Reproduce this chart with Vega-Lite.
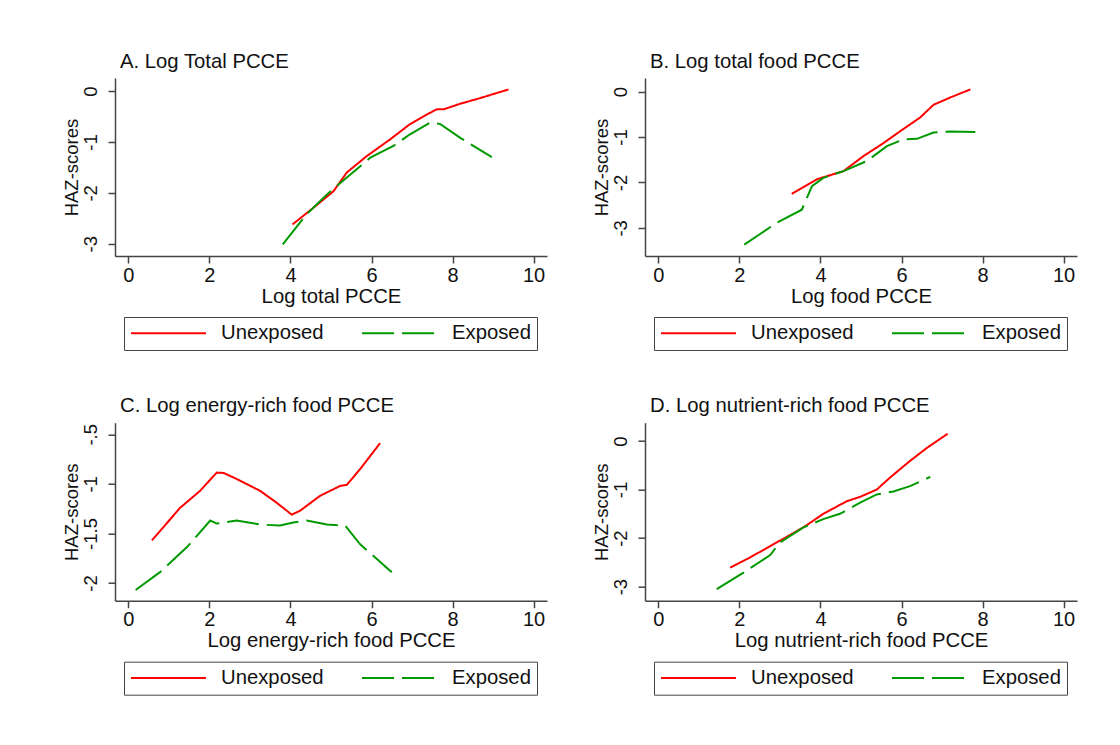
{
  "$schema": "https://vega.github.io/schema/vega-lite/v6.json",
  "background": "white",
  "padding": {"left": 61, "top": 51, "right": 10, "bottom": 10},
  "datasets": {
    "curves": [
      {"panel": "A", "series": "Unexposed", "x": 4.05, "y": -2.62},
      {"panel": "A", "series": "Unexposed", "x": 4.57, "y": -2.29},
      {"panel": "A", "series": "Unexposed", "x": 5.06, "y": -1.97},
      {"panel": "A", "series": "Unexposed", "x": 5.39, "y": -1.6},
      {"panel": "A", "series": "Unexposed", "x": 5.88, "y": -1.28},
      {"panel": "A", "series": "Unexposed", "x": 6.46, "y": -0.95},
      {"panel": "A", "series": "Unexposed", "x": 6.95, "y": -0.65},
      {"panel": "A", "series": "Unexposed", "x": 7.37, "y": -0.46},
      {"panel": "A", "series": "Unexposed", "x": 7.61, "y": -0.36},
      {"panel": "A", "series": "Unexposed", "x": 7.78, "y": -0.36},
      {"panel": "A", "series": "Unexposed", "x": 8.19, "y": -0.25},
      {"panel": "A", "series": "Unexposed", "x": 8.68, "y": -0.14},
      {"panel": "A", "series": "Unexposed", "x": 9.38, "y": 0.03},
      {"panel": "A", "series": "Exposed", "x": 3.81, "y": -3.01},
      {"panel": "A", "series": "Exposed", "x": 4.4, "y": -2.42},
      {"panel": "A", "series": "Exposed", "x": 4.9, "y": -2.03},
      {"panel": "A", "series": "Exposed", "x": 5.39, "y": -1.7},
      {"panel": "A", "series": "Exposed", "x": 5.97, "y": -1.31},
      {"panel": "A", "series": "Exposed", "x": 6.54, "y": -1.08},
      {"panel": "A", "series": "Exposed", "x": 6.95, "y": -0.85},
      {"panel": "A", "series": "Exposed", "x": 7.45, "y": -0.62},
      {"panel": "A", "series": "Exposed", "x": 7.7, "y": -0.65},
      {"panel": "A", "series": "Exposed", "x": 8.19, "y": -0.92},
      {"panel": "A", "series": "Exposed", "x": 8.97, "y": -1.3},
      {"panel": "B", "series": "Unexposed", "x": 3.29, "y": -2.25},
      {"panel": "B", "series": "Unexposed", "x": 3.91, "y": -1.93},
      {"panel": "B", "series": "Unexposed", "x": 4.24, "y": -1.84},
      {"panel": "B", "series": "Unexposed", "x": 4.57, "y": -1.75},
      {"panel": "B", "series": "Unexposed", "x": 5.06, "y": -1.42},
      {"panel": "B", "series": "Unexposed", "x": 5.56, "y": -1.13},
      {"panel": "B", "series": "Unexposed", "x": 5.97, "y": -0.87},
      {"panel": "B", "series": "Unexposed", "x": 6.46, "y": -0.57},
      {"panel": "B", "series": "Unexposed", "x": 6.79, "y": -0.29},
      {"panel": "B", "series": "Unexposed", "x": 7.2, "y": -0.13},
      {"panel": "B", "series": "Unexposed", "x": 7.7, "y": 0.05},
      {"panel": "B", "series": "Exposed", "x": 2.12, "y": -3.37},
      {"panel": "B", "series": "Exposed", "x": 2.92, "y": -2.89},
      {"panel": "B", "series": "Exposed", "x": 3.54, "y": -2.6},
      {"panel": "B", "series": "Exposed", "x": 3.79, "y": -2.08},
      {"panel": "B", "series": "Exposed", "x": 4.07, "y": -1.9},
      {"panel": "B", "series": "Exposed", "x": 4.57, "y": -1.75},
      {"panel": "B", "series": "Exposed", "x": 5.14, "y": -1.53},
      {"panel": "B", "series": "Exposed", "x": 5.64, "y": -1.2},
      {"panel": "B", "series": "Exposed", "x": 6.05, "y": -1.05},
      {"panel": "B", "series": "Exposed", "x": 6.38, "y": -1.04},
      {"panel": "B", "series": "Exposed", "x": 6.79, "y": -0.9},
      {"panel": "B", "series": "Exposed", "x": 7.2, "y": -0.88},
      {"panel": "B", "series": "Exposed", "x": 7.82, "y": -0.89},
      {"panel": "C", "series": "Unexposed", "x": 0.58, "y": -1.57},
      {"panel": "C", "series": "Unexposed", "x": 1.28, "y": -1.24},
      {"panel": "C", "series": "Unexposed", "x": 1.77, "y": -1.07},
      {"panel": "C", "series": "Unexposed", "x": 2.18, "y": -0.886},
      {"panel": "C", "series": "Unexposed", "x": 2.35, "y": -0.89},
      {"panel": "C", "series": "Unexposed", "x": 2.67, "y": -0.95},
      {"panel": "C", "series": "Unexposed", "x": 3.25, "y": -1.07},
      {"panel": "C", "series": "Unexposed", "x": 3.66, "y": -1.19},
      {"panel": "C", "series": "Unexposed", "x": 4.03, "y": -1.31},
      {"panel": "C", "series": "Unexposed", "x": 4.24, "y": -1.27},
      {"panel": "C", "series": "Unexposed", "x": 4.73, "y": -1.12},
      {"panel": "C", "series": "Unexposed", "x": 5.23, "y": -1.02},
      {"panel": "C", "series": "Unexposed", "x": 5.39, "y": -1.01},
      {"panel": "C", "series": "Unexposed", "x": 5.72, "y": -0.85},
      {"panel": "C", "series": "Unexposed", "x": 6.21, "y": -0.59},
      {"panel": "C", "series": "Exposed", "x": 0.18, "y": -2.07},
      {"panel": "C", "series": "Exposed", "x": 0.78, "y": -1.89},
      {"panel": "C", "series": "Exposed", "x": 1.44, "y": -1.64},
      {"panel": "C", "series": "Exposed", "x": 2.02, "y": -1.37},
      {"panel": "C", "series": "Exposed", "x": 2.18, "y": -1.4},
      {"panel": "C", "series": "Exposed", "x": 2.67, "y": -1.37},
      {"panel": "C", "series": "Exposed", "x": 3.25, "y": -1.41},
      {"panel": "C", "series": "Exposed", "x": 3.74, "y": -1.42},
      {"panel": "C", "series": "Exposed", "x": 4.07, "y": -1.39},
      {"panel": "C", "series": "Exposed", "x": 4.4, "y": -1.37},
      {"panel": "C", "series": "Exposed", "x": 4.9, "y": -1.41},
      {"panel": "C", "series": "Exposed", "x": 5.35, "y": -1.42},
      {"panel": "C", "series": "Exposed", "x": 5.72, "y": -1.61},
      {"panel": "C", "series": "Exposed", "x": 6.5, "y": -1.89},
      {"panel": "D", "series": "Unexposed", "x": 1.77, "y": -2.61},
      {"panel": "D", "series": "Unexposed", "x": 2.26, "y": -2.4},
      {"panel": "D", "series": "Unexposed", "x": 2.92, "y": -2.09},
      {"panel": "D", "series": "Unexposed", "x": 3.58, "y": -1.78},
      {"panel": "D", "series": "Unexposed", "x": 4.07, "y": -1.5},
      {"panel": "D", "series": "Unexposed", "x": 4.65, "y": -1.24},
      {"panel": "D", "series": "Unexposed", "x": 4.98, "y": -1.15},
      {"panel": "D", "series": "Unexposed", "x": 5.39, "y": -1.0},
      {"panel": "D", "series": "Unexposed", "x": 5.72, "y": -0.75},
      {"panel": "D", "series": "Unexposed", "x": 6.21, "y": -0.41},
      {"panel": "D", "series": "Unexposed", "x": 6.63, "y": -0.14},
      {"panel": "D", "series": "Unexposed", "x": 7.14, "y": 0.15},
      {"panel": "D", "series": "Exposed", "x": 1.44, "y": -3.05},
      {"panel": "D", "series": "Exposed", "x": 2.1, "y": -2.71},
      {"panel": "D", "series": "Exposed", "x": 2.76, "y": -2.35},
      {"panel": "D", "series": "Exposed", "x": 3.0, "y": -2.09},
      {"panel": "D", "series": "Exposed", "x": 3.58, "y": -1.78},
      {"panel": "D", "series": "Exposed", "x": 4.07, "y": -1.61},
      {"panel": "D", "series": "Exposed", "x": 4.48, "y": -1.5},
      {"panel": "D", "series": "Exposed", "x": 4.98, "y": -1.27},
      {"panel": "D", "series": "Exposed", "x": 5.39, "y": -1.1},
      {"panel": "D", "series": "Exposed", "x": 5.8, "y": -1.04},
      {"panel": "D", "series": "Exposed", "x": 6.21, "y": -0.93},
      {"panel": "D", "series": "Exposed", "x": 6.71, "y": -0.74}
    ]
  },
  "columns": 2,
  "bounds": "flush",
  "spacing": {"column": 98, "row": 166.7},
  "resolve": {
    "scale": {"x": "independent", "y": "independent", "color": "independent", "strokeDash": "independent"},
    "legend": {"color": "independent", "strokeDash": "independent"}
  },
  "concat": [
    {
      "width": 432, "height": 178,
      "title": "A. Log Total PCCE",
      "data": {"name": "curves"},
      "transform": [{"filter": "datum.panel == 'A'"}],
      "mark": {"type": "line", "strokeWidth": 2},
      "encoding": {
        "x": {"field": "x", "type": "quantitative", "scale": {"domain": [-0.33, 10.33], "nice": false, "zero": false}, "axis": {"values": [0, 2, 4, 6, 8, 10], "title": "Log total PCCE"}},
        "y": {"field": "y", "type": "quantitative", "scale": {"domain": [-3.24, 0.255], "nice": false, "zero": false}, "axis": {"values": [0, -1, -2, -3], "title": "HAZ-scores"}},
        "color": {"field": "series", "type": "nominal", "scale": {"domain": ["Unexposed", "Exposed"], "range": ["#ff0000", "#009a00"]}, "legend": {"orient": "none", "legendX": 9, "legendY": 239, "direction": "horizontal", "title": null}},
        "strokeDash": {"field": "series", "type": "nominal", "scale": {"domain": ["Unexposed", "Exposed"], "range": [[1, 0], [32, 8]]}, "legend": {"orient": "none", "legendX": 9, "legendY": 239, "direction": "horizontal", "title": null}}
      }
    },
    {
      "width": 432, "height": 178,
      "title": "B. Log total food PCCE",
      "data": {"name": "curves"},
      "transform": [{"filter": "datum.panel == 'B'"}],
      "mark": {"type": "line", "strokeWidth": 2},
      "encoding": {
        "x": {"field": "x", "type": "quantitative", "scale": {"domain": [-0.33, 10.33], "nice": false, "zero": false}, "axis": {"values": [0, 2, 4, 6, 8, 10], "title": "Log food PCCE"}},
        "y": {"field": "y", "type": "quantitative", "scale": {"domain": [-3.62, 0.3], "nice": false, "zero": false}, "axis": {"values": [0, -1, -2, -3], "title": "HAZ-scores"}},
        "color": {"field": "series", "type": "nominal", "scale": {"domain": ["Unexposed", "Exposed"], "range": ["#ff0000", "#009a00"]}, "legend": {"orient": "none", "legendX": 9, "legendY": 239, "direction": "horizontal", "title": null}},
        "strokeDash": {"field": "series", "type": "nominal", "scale": {"domain": ["Unexposed", "Exposed"], "range": [[1, 0], [32, 8]]}, "legend": {"orient": "none", "legendX": 9, "legendY": 239, "direction": "horizontal", "title": null}}
      }
    },
    {
      "width": 432, "height": 178,
      "title": "C. Log energy-rich food PCCE",
      "data": {"name": "curves"},
      "transform": [{"filter": "datum.panel == 'C'"}],
      "mark": {"type": "line", "strokeWidth": 2},
      "encoding": {
        "x": {"field": "x", "type": "quantitative", "scale": {"domain": [-0.33, 10.33], "nice": false, "zero": false}, "axis": {"values": [0, 2, 4, 6, 8, 10], "title": "Log energy-rich food PCCE"}},
        "y": {"field": "y", "type": "quantitative", "scale": {"domain": [-2.178, -0.383], "nice": false, "zero": false}, "axis": {"values": [-0.5, -1, -1.5, -2], "title": "HAZ-scores"}},
        "color": {"field": "series", "type": "nominal", "scale": {"domain": ["Unexposed", "Exposed"], "range": ["#ff0000", "#009a00"]}, "legend": {"orient": "none", "legendX": 9, "legendY": 239, "direction": "horizontal", "title": null}},
        "strokeDash": {"field": "series", "type": "nominal", "scale": {"domain": ["Unexposed", "Exposed"], "range": [[1, 0], [32, 8]]}, "legend": {"orient": "none", "legendX": 9, "legendY": 239, "direction": "horizontal", "title": null}}
      }
    },
    {
      "width": 432, "height": 178,
      "title": "D. Log nutrient-rich food PCCE",
      "data": {"name": "curves"},
      "transform": [{"filter": "datum.panel == 'D'"}],
      "mark": {"type": "line", "strokeWidth": 2},
      "encoding": {
        "x": {"field": "x", "type": "quantitative", "scale": {"domain": [-0.33, 10.33], "nice": false, "zero": false}, "axis": {"values": [0, 2, 4, 6, 8, 10], "title": "Log nutrient-rich food PCCE"}},
        "y": {"field": "y", "type": "quantitative", "scale": {"domain": [-3.29, 0.377], "nice": false, "zero": false}, "axis": {"values": [0, -1, -2, -3], "title": "HAZ-scores"}},
        "color": {"field": "series", "type": "nominal", "scale": {"domain": ["Unexposed", "Exposed"], "range": ["#ff0000", "#009a00"]}, "legend": {"orient": "none", "legendX": 9, "legendY": 239, "direction": "horizontal", "title": null}},
        "strokeDash": {"field": "series", "type": "nominal", "scale": {"domain": ["Unexposed", "Exposed"], "range": [[1, 0], [32, 8]]}, "legend": {"orient": "none", "legendX": 9, "legendY": 239, "direction": "horizontal", "title": null}}
      }
    }
  ],
  "config": {
    "font": "Liberation Sans",
    "view": {"stroke": null},
    "title": {"fontSize": 20.3, "fontWeight": "normal", "color": "#111", "anchor": "start", "frame": "group", "dx": 5, "offset": 6},
    "axis": {"domainColor": "#444", "domainWidth": 1.5, "tickColor": "#444", "tickWidth": 1.5, "tickSize": 7, "grid": false, "labelFontSize": 20, "labelColor": "#111", "titleFontSize": 20.3, "titleFontWeight": "normal", "titleColor": "#111", "labelFlush": false, "labelOverlap": false},
    "axisX": {"labelPadding": 2, "titlePadding": 1},
    "axisY": {"labelAngle": 270, "labelAlign": "center", "labelBaseline": "alphabetic", "labelPadding": 12, "titlePadding": 0, "titleFontSize": 18.5, "labelFontSize": 18.5, "labelExpr": "datum.value == 0 ? '0' : '-' + replace(format(-datum.value, '~g'), '0.', '.')"},
    "legend": {"strokeColor": "#444", "fillColor": "white", "padding": 6, "symbolType": "stroke", "symbolSize": 5625, "clipHeight": 20, "symbolStrokeWidth": 2, "labelFontSize": 20.3, "labelColor": "#111", "labelOffset": 14, "columnPadding": 37, "labelLimit": 300}
  }
}
